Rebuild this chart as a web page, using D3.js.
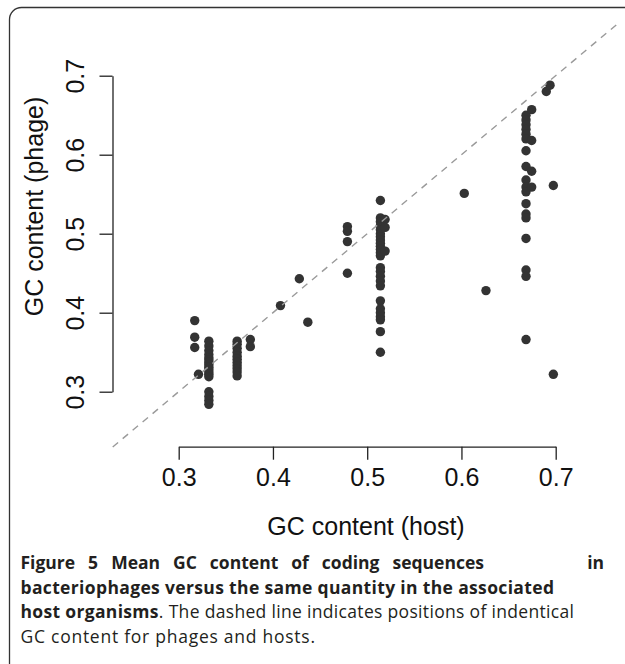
<!DOCTYPE html>
<html>
<head>
<meta charset="utf-8">
<script src="https://cdn.jsdelivr.net/npm/d3@7"></script>
<style>
  body { margin: 0; background: #fff; }
  svg { display: block; }
</style>
</head>
<body>
<svg width="625" height="664"></svg>
<script>
// mean GC content of host (x) and phage (y)
const hostGC = [
  0.317, 0.317, 0.317, 0.321,
  0.332, 0.332, 0.332, 0.332, 0.332, 0.332, 0.332, 0.332, 0.332, 0.332, 0.332, 0.332, 0.332,
  0.332, 0.332, 0.332, 0.332,
  0.362, 0.362, 0.362, 0.362, 0.362, 0.362, 0.362, 0.362, 0.362, 0.362, 0.362,
  0.376, 0.376,
  0.408, 0.428, 0.437,
  0.479, 0.479, 0.479, 0.479,
  0.514, 0.514, 0.514, 0.514, 0.514, 0.514, 0.514, 0.514, 0.514, 0.514, 0.514, 0.514, 0.514,
  0.514, 0.514, 0.514, 0.514, 0.514, 0.514, 0.514, 0.514, 0.514, 0.514, 0.514, 0.514,
  0.519, 0.519, 0.519,
  0.603, 0.626,
  0.6685, 0.6685, 0.6685, 0.6685, 0.6685, 0.6685, 0.6685, 0.6685, 0.6685,
  0.6685, 0.6685, 0.6685, 0.6685, 0.6685, 0.6685, 0.6685, 0.6685, 0.6685,
  0.6745, 0.6745, 0.6745, 0.6745,
  0.690, 0.694, 0.6975, 0.6975
];
const phageGC = [
  0.390, 0.369, 0.356, 0.322,
  0.364, 0.358, 0.352, 0.347, 0.343, 0.340, 0.337, 0.334, 0.331, 0.328, 0.325, 0.322, 0.319,
  0.300, 0.294, 0.289, 0.284,
  0.364, 0.360, 0.355, 0.350, 0.345, 0.341, 0.337, 0.333, 0.329, 0.325, 0.320,
  0.366, 0.357,
  0.409, 0.443, 0.388,
  0.509, 0.503, 0.490, 0.450,
  0.542, 0.520, 0.515, 0.510, 0.505, 0.500, 0.496, 0.492, 0.488, 0.484, 0.480, 0.476, 0.472,
  0.457, 0.452, 0.446, 0.440, 0.434, 0.415, 0.405, 0.400, 0.395, 0.391, 0.376, 0.350,
  0.518, 0.508, 0.478,
  0.551, 0.428,
  0.650, 0.644, 0.638, 0.632, 0.626, 0.620, 0.605, 0.585, 0.568,
  0.559, 0.553, 0.538, 0.525, 0.520, 0.494, 0.454, 0.446, 0.366,
  0.657, 0.618, 0.579, 0.559,
  0.680, 0.688, 0.561, 0.322
];
const tickValues = [0.3, 0.4, 0.5, 0.6, 0.7];
const identityLine = [0.23, 0.765];
const xTitle = "GC content (host)";
const yTitle = "GC content (phage)";
const captionLines = [
  [{ t: "Figure 5 Mean GC content of coding sequences", b: true }],
  [{ t: "bacteriophages versus the same quantity in the associated", b: true }],
  [{ t: "host organisms", b: true }, { t: ". The dashed line indicates positions of indentical", b: false }],
  [{ t: "GC content for phages and hosts.", b: false }]
];
const captionTail = "in";

GCPlot = function() {
  this.initVis();
};

GCPlot.prototype.initVis = function() {
  let vis = this;

  vis.svg = d3.select("svg");

  vis.x = d3.scaleLinear().domain([0.3, 0.7]).range([178.7, 555.7]);
  vis.y = d3.scaleLinear().domain([0.3, 0.7]).range([391.7, 75.7]);

  // frame around the figure
  vis.svg
    .append("rect")
    .attr("x", 9.5)
    .attr("y", 7.5)
    .attr("width", 640)
    .attr("height", 668)
    .attr("rx", 12)
    .attr("fill", "none")
    .attr("stroke", "#333")
    .attr("stroke-width", 1.3);

  vis.g = vis.svg.append("g");

  vis.renderAxes();
  vis.renderPoints();
  vis.renderCaption();
};

GCPlot.prototype.renderAxes = function() {
  let vis = this;
  const font = "'Liberation Sans', Arial, sans-serif";

  let xAxis = vis.g
    .append("g")
    .attr("transform", "translate(0,446.7)")
    .call(d3.axisBottom(vis.x).tickValues(tickValues).tickSize(13).tickSizeOuter(0).tickPadding(9)
      .tickFormat(d3.format(".1f")));

  let yAxis = vis.g
    .append("g")
    .attr("transform", "translate(112.5,0)")
    .call(d3.axisLeft(vis.y).tickValues(tickValues).tickSize(13).tickSizeOuter(0)
      .tickFormat(d3.format(".1f")));

  [xAxis, yAxis].forEach(function(ax) {
    ax.selectAll("path, line").attr("stroke", "#222").attr("stroke-width", 1.3);
    ax.selectAll("text")
      .attr("font-family", font)
      .attr("font-size", "25px")
      .attr("fill", "#111");
  });

  xAxis.selectAll("text").attr("dy", "0.71em");

  // y tick labels run parallel to the axis; each tick group is already placed at y(d)
  yAxis.selectAll("text")
    .attr("x", null)
    .attr("y", null)
    .attr("dy", null)
    .attr("text-anchor", "middle")
    .attr("transform", "translate(" + (84 - 112.5) + ",0) rotate(-90)");

  vis.g
    .append("text")
    .attr("x", 366)
    .attr("y", 534.5)
    .attr("text-anchor", "middle")
    .attr("font-family", font)
    .attr("font-size", "25px")
    .attr("fill", "#111")
    .text(xTitle);

  vis.g
    .append("text")
    .attr("transform", "translate(43,206.5) rotate(-90)")
    .attr("text-anchor", "middle")
    .attr("font-family", font)
    .attr("font-size", "25px")
    .attr("fill", "#111")
    .text(yTitle);
};

GCPlot.prototype.renderPoints = function() {
  let vis = this;

  let pts = hostGC.map(function(h, i) {
    return { host: h, phage: phageGC[i] };
  });

  vis.g
    .append("g")
    .selectAll("circle")
    .data(pts)
    .enter()
    .append("circle")
    .attr("cx", function(d) { return vis.x(d.host); })
    .attr("cy", function(d) { return vis.y(d.phage); })
    .attr("r", 4.7)
    .attr("fill", "#333");

  // y = x reference line, drawn over the points
  vis.g
    .append("line")
    .attr("x1", vis.x(identityLine[0]))
    .attr("y1", vis.y(identityLine[0]))
    .attr("x2", vis.x(identityLine[1]))
    .attr("y2", vis.y(identityLine[1]))
    .attr("stroke", "#9a9a9a")
    .attr("stroke-width", 1.4)
    .attr("stroke-dasharray", "7,6");
};

GCPlot.prototype.renderCaption = function() {
  let vis = this;
  const baselines = [569, 594, 618, 643];
  const ends = [484, 554, 574, 315];
  const left = 20.5;

  captionLines.forEach(function(line, i) {
    let t = vis.svg
      .append("text")
      .attr("x", left)
      .attr("y", baselines[i])
      .attr("font-family", "'Open Sans', 'Noto Sans', sans-serif")
      .attr("font-size", "17.5px")
      .attr("fill", "#231f20");

    line.forEach(function(seg) {
      t.append("tspan")
        .attr("font-weight", seg.b ? "bold" : "normal")
        .text(seg.t);
    });

    let natural = t.node().getComputedTextLength();
    let target = ends[i] - left;
    if (i === 0) {
      // first line is justified: widen the word gaps
      let gaps = line[0].t.split(" ").length - 1;
      t.attr("word-spacing", (target - natural) / gaps);
    } else {
      t.attr("textLength", target).attr("lengthAdjust", "spacing");
    }
  });

  vis.svg
    .append("text")
    .attr("x", 604)
    .attr("y", baselines[0])
    .attr("text-anchor", "end")
    .attr("font-family", "'Open Sans', 'Noto Sans', sans-serif")
    .attr("font-size", "17.5px")
    .attr("font-weight", "bold")
    .attr("fill", "#231f20")
    .text(captionTail);
};

new GCPlot();
</script>
</body>
</html>
